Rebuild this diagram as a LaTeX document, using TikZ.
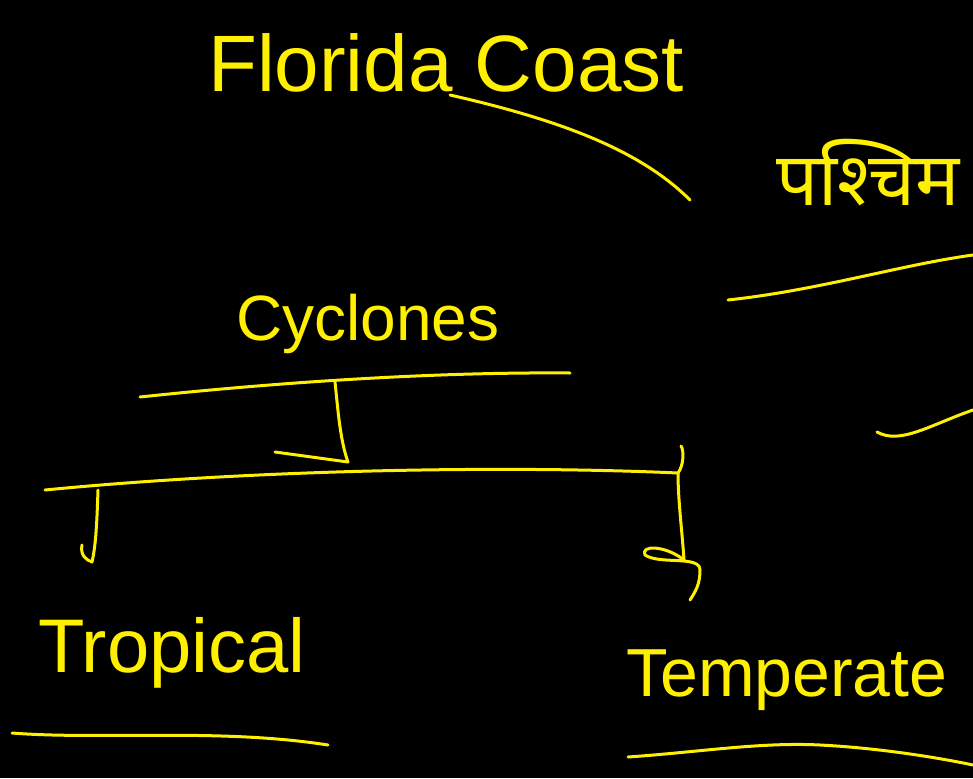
\documentclass[tikz,border=0pt]{standalone}
\usepackage{fontspec}
\setmainfont{Liberation Sans}
\newfontfamily\deva[Script=Devanagari]{Noto Sans}
\begin{document}
\begin{tikzpicture}[x=1pt,y=-1pt,
  ink/.style={draw=inkyellow,line width=3pt,line cap=round,line join=round},
  word/.style={text=inkyellow,inner sep=0pt,anchor=base west}]
\definecolor{inkyellow}{RGB}{255,240,0}
\fill[black] (0,0) rectangle (973,778);
\useasboundingbox (0,0) rectangle (973,778);
\clip (0,0) rectangle (973,778);
% texts
\node[word,font=\fontsize{80}{90}\selectfont] (florida) at (208,92) {Florida Coast};
\node[word,font=\deva\fontsize{74}{80}\selectfont] (paschim) at (776,205) {पश्चिम};
\node[word,font=\fontsize{64}{70}\selectfont] (cyclones) at (236,340) {Cyclones};
\node[word,font=\fontsize{76}{84}\selectfont] (tropical) at (38,672) {Tropical};
\node[word,font=\fontsize{68}{76}\selectfont] (temperate) at (626,696) {Temperate};
% coordinates
\coordinate (fc1) at (450,95);
\coordinate (fc2) at (690,200);
\coordinate (w1) at (728,300);
\coordinate (w2) at (973,255);
\coordinate (s1) at (877,432);
\coordinate (s2) at (973,410);
\coordinate (cl) at (140,397);
\coordinate (cr) at (570,373);
\coordinate (st) at (335,382);
\coordinate (sb) at (348,462);
\coordinate (sh) at (275,452);
\coordinate (hl) at (45,490);
\coordinate (hr) at (678,473);
\coordinate (hu) at (681,446);
\coordinate (lt) at (98,490);
\coordinate (lb) at (92,562);
\coordinate (rb) at (684,560);
\coordinate (tu1) at (12,733);
\coordinate (tu2) at (328,745);
\coordinate (te1) at (628,757);
\coordinate (te2) at (973,765);
% strokes
\draw[ink] (fc1) .. controls (560,120) and (640,150) .. (fc2);
\draw[ink] (w1) .. controls (820,290) and (900,265) .. (w2);
\draw[ink] (s1) .. controls (900,445) and (930,425) .. (s2);
\draw[ink] (cl) .. controls (300,380) and (450,372) .. (cr);
\draw[ink] (st) .. controls (338,410) and (340,440) .. (sb) -- (sh);
\draw[ink] (hl) .. controls (250,470) and (500,465) .. (hr) .. controls (684,465) and (684,450) .. (hu);
\draw[ink] (hr) .. controls (678,500) and (682,530) .. (rb);
\draw[ink] (rb) .. controls (665,545) and (640,545) .. (645,555) .. controls (660,565) and (700,555) .. (700,570) .. controls (700,585) and (695,592) .. (690,600);
\draw[ink] (lt) .. controls (97,520) and (96,545) .. (lb) .. controls (86,560) and (80,555) .. (82,545);
\draw[ink] (tu1) .. controls (100,740) and (220,728) .. (tu2);
\draw[ink] (te1) .. controls (700,752) and (760,742) .. (820,745) .. controls (880,748) and (940,758) .. (te2);
\end{tikzpicture}
\end{document}
